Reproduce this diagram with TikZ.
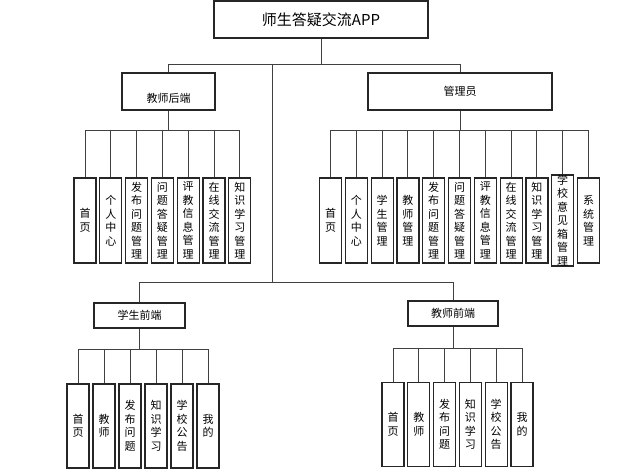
\documentclass[tikz,border=0pt]{standalone}
\usepackage{fontspec}
\setmainfont{Noto Sans CJK SC}
\tikzset{
  box/.style={draw=black!85,line width=1.2pt,fill=white,inner sep=0pt,align=center,font=\fontsize{11}{11}\selectfont},
  leaf/.style={box,minimum width=22pt,minimum height=85pt,font=\fontsize{11}{13.5}\selectfont},
  link/.style={draw=black!75,line width=1pt}
}
\begin{document}
\begin{tikzpicture}[x=1pt,y=-1pt]
\useasboundingbox (0,0) rectangle (644,471);
\node[box,minimum width=214pt,minimum height=37pt,font=\fontsize{15}{15}\selectfont] (app) at (321,19.5) {师生答疑交流APP};
\node[box,minimum width=93pt,minimum height=37pt,text height=22pt,text depth=0pt] (tb) at (168.5,91.5) {教师后端};
\node[box,minimum width=184pt,minimum height=37pt] (am) at (460,91.5) {管理员};
\node[box,minimum width=91pt,minimum height=25pt] (sf) at (139.5,315.5) {学生前端};
\node[box,minimum width=90pt,minimum height=25pt] (tf) at (453,313.5) {教师前端};
\coordinate (bus) at (272,64);
\coordinate (fbus) at (272,282);
\draw[link] (app.south) |- (bus);
\draw[link] (bus -| app.south) -| (tb.north);
\draw[link] (bus -| app.south) -| (am.north);
\draw[link] (bus) -- (fbus);
\draw[link] (fbus) -| (sf.north);
\draw[link] (fbus) -| (tf.north);
\coordinate (tbbus) at (0,130);
\coordinate (ambus) at (0,130);
\coordinate (sfbus) at (0,349);
\coordinate (tfbus) at (0,348);
\foreach \t [count=\i] in {{首\\页},{个\\人\\中\\心},{发\\布\\问\\题\\管\\理},{问\\题\\答\\疑\\管\\理},{评\\教\\信\\息\\管\\理},{在\\线\\交\\流\\管\\理},{知\\识\\学\\习\\管\\理}}{
  \node[leaf] (tb\i) at ({85+25.8*(\i-1)},220.5) {\t};
  \draw[link] (tb.south) |- (tb\i.north |- tbbus) -- (tb\i.north);
}
\foreach \t [count=\i] in {{首\\页},{个\\人\\中\\心},{学\\生\\管\\理},{教\\师\\管\\理},{发\\布\\问\\题\\管\\理},{问\\题\\答\\疑\\管\\理},{评\\教\\信\\息\\管\\理},{在\\线\\交\\流\\管\\理},{知\\识\\学\\习\\管\\理},{学\\校\\意\\见\\箱\\管\\理},{系\\统\\管\\理}}{
  \node[leaf] (am\i) at ({330.5+25.8*(\i-1)},220.5) {\t};
  \draw[link] (am.south) |- (am\i.north |- ambus) -- (am\i.north);
}
\foreach \t [count=\i] in {{首\\页},{教\\师},{发\\布\\问\\题},{知\\识\\学\\习},{学\\校\\公\\告},{我\\的}}{
  \node[leaf,minimum height=84pt] (sf\i) at ({78+26*(\i-1)},426) {\t};
  \draw[link] (sf.south) |- (sf\i.north |- sfbus) -- (sf\i.north);
  \node[leaf,minimum height=84pt] (tf\i) at ({393+25.8*(\i-1)},424.5) {\t};
  \draw[link] (tf.south) |- (tf\i.north |- tfbus) -- (tf\i.north);
}
\end{tikzpicture}
\end{document}
